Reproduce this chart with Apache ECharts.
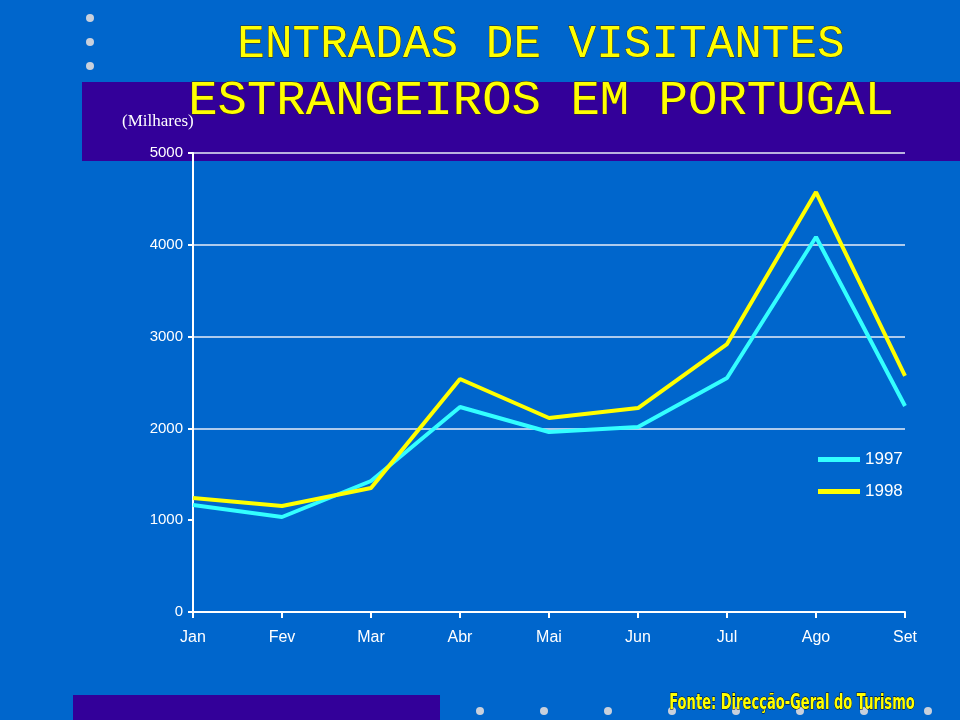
<!DOCTYPE html>
<html><head><meta charset="utf-8">
<script src="https://cdn.jsdelivr.net/npm/echarts@6/dist/echarts.min.js"></script>
<style>html,body{margin:0;padding:0;background:#0066CC}#c{width:960px;height:720px}</style>
</head><body><div id="c"></div>
<script>
const months = ['Jan','Fev','Mar','Abr','Mai','Jun','Jul','Ago','Set'];
const seriesNames = ['1997','1998'];
const v1997 = [1166,1035,1427,2233,1961,2015,2549,4085,2244];
const v1998 = [1242,1155,1351,2538,2113,2222,2919,4575,2571];
const titleLine1 = 'ENTRADAS DE VISITANTES';
const titleLine2 = 'ESTRANGEIROS EM PORTUGAL';
const unitLabel = '(Milhares)';
const sourceText = 'Fonte: Direcção-Geral do Turismo';

const chart = echarts.init(document.getElementById('c'), null, {renderer:'canvas'});
const dots = [];
[18,42,66].forEach(y=>dots.push({type:'circle',shape:{cx:90,cy:y,r:4},style:{fill:'#c8d0dc'},z:-5}));
[480,544,608,672,736,800,864,928].forEach(x=>dots.push({type:'circle',shape:{cx:x,cy:711,r:4},style:{fill:'#c8d0dc'},z:-5}));
const titleStyle = {fill:'#FFFF00',stroke:'#3a2a00',lineWidth:0.8,textShadowColor:'#000',textShadowOffsetX:2,textShadowOffsetY:2,textShadowBlur:0,fontFamily:'Liberation Mono',align:'center',verticalAlign:'middle'};
chart.setOption({
  backgroundColor:'#0066CC',
  animation:false,
  graphic:[
    {type:'rect',shape:{x:82,y:82,width:878,height:79},style:{fill:'#330099'},z:-10},
    {type:'rect',shape:{x:73,y:695,width:367,height:25},style:{fill:'#330099'},z:-10},
    ...dots,
    {type:'text',x:541,y:45,style:Object.assign({},titleStyle,{text:titleLine1,fontSize:46}),z:100},
    {type:'text',x:541,y:101,style:Object.assign({},titleStyle,{text:titleLine2,fontSize:49}),z:100},
    {type:'text',x:122,y:122,style:{text:unitLabel,fill:'#fff',fontSize:17,fontFamily:'Liberation Serif',verticalAlign:'middle'},z:100},
    {type:'text',x:792,y:703,scaleX:0.66,style:{text:sourceText,fill:'#FFFF00',stroke:'#000',lineWidth:1,textShadowColor:'#000',textShadowOffsetX:2,textShadowOffsetY:2,fontSize:22,fontWeight:'bold',fontFamily:'DejaVu Sans Condensed, sans-serif',align:'center',verticalAlign:'middle'},z:100}
  ],
  grid:{left:193,right:55,top:153,bottom:108},
  legend:{orient:'vertical',left:813,top:446,itemWidth:42,itemHeight:5,itemGap:15,icon:'rect',
    textStyle:{color:'#fff',fontSize:17,fontFamily:'Liberation Sans'},data:seriesNames},
  xAxis:{type:'category',data:months,boundaryGap:false,
    axisLine:{lineStyle:{color:'#fff',width:2}},
    axisTick:{show:true,length:6,lineStyle:{color:'#fff',width:2}},
    axisLabel:{color:'#fff',fontSize:16,fontFamily:'Liberation Sans',margin:18}},
  yAxis:{type:'value',min:0,max:5000,interval:1000,
    axisLine:{show:true,lineStyle:{color:'#fff',width:2}},
    axisTick:{show:true,length:5,lineStyle:{color:'#fff',width:2}},
    axisLabel:{color:'#fff',fontSize:15,fontFamily:'Liberation Sans',margin:10,formatter:v=>String(v)},
    splitLine:{show:true,lineStyle:{width:1.5,color:['rgba(0,0,0,0)','rgba(0,0,0,0)','#e8eef8','#e8eef8','#e8eef8','#e8eef8']}}},
  series:[
    {name:seriesNames[0],type:'line',data:v1997,symbol:'none',lineStyle:{color:'#33FFFF',width:4},itemStyle:{color:'#33FFFF'},z:3},
    {name:seriesNames[1],type:'line',data:v1998,symbol:'none',lineStyle:{color:'#FFFF00',width:4},itemStyle:{color:'#FFFF00'},z:4}
  ]
});
</script></body></html>
